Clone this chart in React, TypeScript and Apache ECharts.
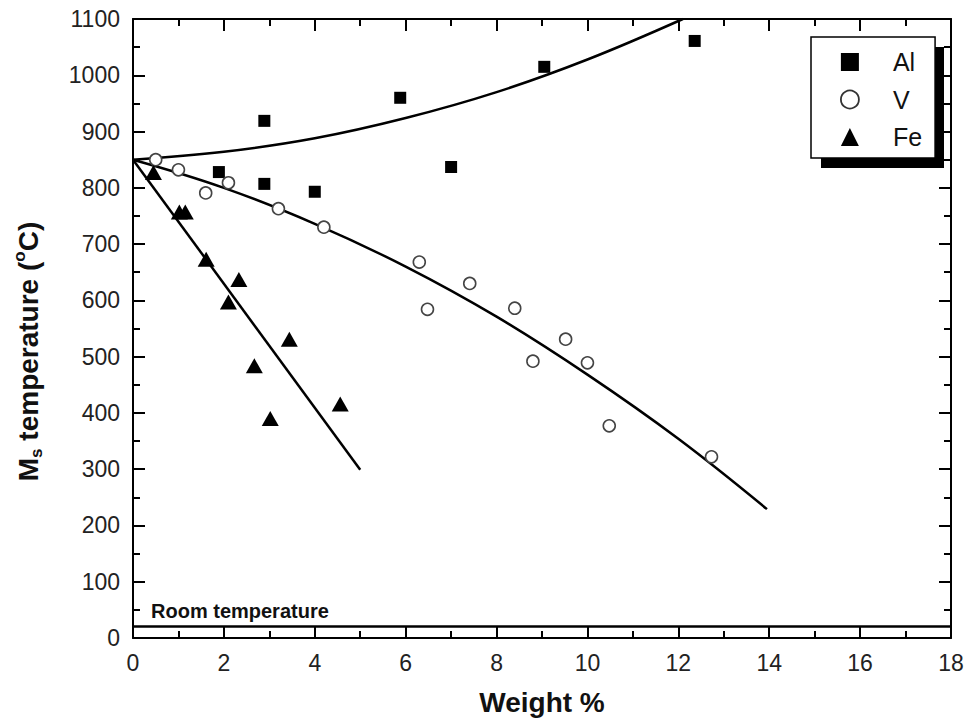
import React, { useEffect, useRef } from "react";
import * as echarts from "echarts";

// Scatter data (Weight %, Ms temperature °C)
const alX = [1.89, 2.89, 2.89, 4.0, 5.88, 7.0, 9.05, 12.36];
const alY = [828, 919, 807, 793, 960, 837, 1015, 1061];

const vX = [0.5, 1.0, 1.6, 2.1, 3.2, 4.2, 6.3, 6.48, 7.41, 8.4, 9.52, 8.8, 10.0, 10.48, 12.73];
const vY = [850, 832, 791, 809, 763, 730, 668, 584, 630, 586, 531, 492, 489, 377, 322];

const feX = [0.45, 1.02, 1.15, 1.61, 2.33, 2.1, 3.44, 2.67, 3.02, 4.56];
const feY = [827, 757, 757, 673, 637, 597, 531, 484, 390, 416];

// Fitted trend curves
const alFitX = [0, 2, 4, 6, 8, 10, 12.1];
const alFitY = [850, 864, 888, 924, 970, 1028, 1100];
const vFitX = [0, 2, 4, 6, 8, 10, 12, 13.95];
const vFitY = [850, 800, 736, 660, 571, 468, 354, 229];
const feFitX = [0, 5];
const feFitY = [850, 299];

const roomTemperature = 20;

const xTicks = { min: 0, max: 18, interval: 2 };
const yTicks = { min: 0, max: 1100, interval: 100 };

const FONT = "'Liberation Sans', Arial, sans-serif";

const zip = (xs: number[], ys: number[]) => xs.map((x, i) => [x, ys[i]]);

export default function App() {
  const ref = useRef<HTMLDivElement>(null);

  useEffect(() => {
    if (!ref.current) return;
    const chart = echarts.init(ref.current, null, { renderer: "svg" });

    const axisLine = () => ({ show: true, onZero: false, lineStyle: { color: "#000", width: 2 } });
    const axisTick = () => ({ show: true, inside: true, length: 12, lineStyle: { color: "#000", width: 2 } });
    const minorTick = () => ({ show: true, splitNumber: 2, length: 7, lineStyle: { color: "#000", width: 2 } });
    const axisLabel = () => ({
      show: true,
      color: "#222",
      fontSize: 23,
      fontFamily: FONT,
      margin: 13,
      formatter: (v: number) => String(v),
    });

    const lineFit = (name: string, xs: number[], ys: number[]) => ({
      name,
      type: "line",
      data: zip(xs, ys),
      smooth: 0.4,
      showSymbol: false,
      symbol: "none",
      lineStyle: { color: "#000", width: 2.5 },
      z: 3,
      silent: true,
    });

    chart.setOption({
      animation: false,
      backgroundColor: "#fff",
      grid: { left: 133, right: 18, top: 19, bottom: 90, containLabel: false },
      xAxis: [
        {
          type: "value",
          position: "bottom",
          ...xTicks,
          name: "Weight %",
          nameLocation: "middle",
          nameGap: 50,
          nameTextStyle: { fontSize: 28, fontWeight: "bold", color: "#111", fontFamily: FONT },
          axisLine: axisLine(),
          axisTick: axisTick(),
          minorTick: minorTick(),
          axisLabel: axisLabel(),
          splitLine: { show: false },
        },
        {
          type: "value",
          position: "top",
          ...xTicks,
          axisLine: axisLine(),
          axisTick: axisTick(),
          minorTick: minorTick(),
          axisLabel: { show: false },
          splitLine: { show: false },
        },
      ],
      yAxis: [
        {
          type: "value",
          position: "left",
          ...yTicks,
          name: "M{sub|s} temperature ({sup|o}C)",
          nameLocation: "middle",
          nameGap: 88,
          nameTextStyle: {
            fontSize: 28,
            fontWeight: "bold",
            color: "#111",
            fontFamily: FONT,
            lineHeight: 34,
            padding: [0, 46, 0, 0],
            rich: {
              sub: { fontSize: 17, fontWeight: "bold", color: "#111", fontFamily: FONT, verticalAlign: "bottom", lineHeight: 34 },
              sup: { fontSize: 17, fontWeight: "bold", color: "#111", fontFamily: FONT, verticalAlign: "top", lineHeight: 34 },
            },
          },
          axisLine: axisLine(),
          axisTick: axisTick(),
          minorTick: minorTick(),
          axisLabel: axisLabel(),
          splitLine: { show: false },
        },
        {
          type: "value",
          position: "right",
          ...yTicks,
          axisLine: axisLine(),
          axisTick: axisTick(),
          minorTick: minorTick(),
          axisLabel: { show: false },
          splitLine: { show: false },
        },
      ],
      legend: {
        orient: "vertical",
        left: 811,
        top: 37,
        padding: [12.5, 13, 8.5, 29],
        itemWidth: 18,
        itemHeight: 18,
        itemGap: 12.5,
        backgroundColor: "#fff",
        borderColor: "#000",
        borderWidth: 1.5,
        borderRadius: 0,
        selectedMode: false,
        textStyle: { fontSize: 25, color: "#111", fontFamily: FONT, lineHeight: 25, padding: [0, 0, 0, 29] },
        data: [
          { name: "Al", icon: "rect", itemStyle: { color: "#000", opacity: 1 } },
          { name: "V", icon: "circle", itemStyle: { color: "#fff", borderColor: "#333", borderWidth: 1.8, opacity: 1 } },
          { name: "Fe", icon: "triangle", itemStyle: { color: "#000", opacity: 1 } },
        ],
      },
      graphic: [
        {
          type: "rect",
          shape: { x: 821, y: 47, width: 123, height: 121 },
          style: { fill: "#000" },
          z: 3,
          silent: true,
        },
      ],
      series: [
        lineFit("Al fit", alFitX, alFitY),
        lineFit("V fit", vFitX, vFitY),
        lineFit("Fe fit", feFitX, feFitY),
        {
          name: "Room temperature",
          type: "line",
          data: [],
          markLine: {
            silent: true,
            symbol: "none",
            lineStyle: { color: "#000", width: 2.5, type: "solid" },
            label: {
              show: true,
              position: "insideStartTop",
              formatter: "Room temperature",
              fontSize: 20,
              fontWeight: "bold",
              color: "#111",
              fontFamily: FONT,
              distance: [18, 6],
            },
            data: [{ yAxis: roomTemperature }],
          },
        },
        {
          name: "Al",
          type: "scatter",
          data: zip(alX, alY),
          symbol: "rect",
          symbolSize: 12,
          itemStyle: { color: "#000", opacity: 1 },
          z: 4,
        },
        {
          name: "V",
          type: "scatter",
          data: zip(vX, vY),
          symbol: "circle",
          symbolSize: 12,
          itemStyle: { color: "#fff", borderColor: "#444", borderWidth: 1.6, opacity: 1 },
          z: 4,
        },
        {
          name: "Fe",
          type: "scatter",
          data: zip(feX, feY),
          symbol: "triangle",
          symbolSize: [17, 15],
          itemStyle: { color: "#000", opacity: 1 },
          z: 4,
        },
      ],
    });

    return () => chart.dispose();
  }, []);

  return (
    <div
      ref={ref}
      style={{ position: "fixed", left: 0, top: 0, width: 969, height: 728 }}
    />
  );
}
